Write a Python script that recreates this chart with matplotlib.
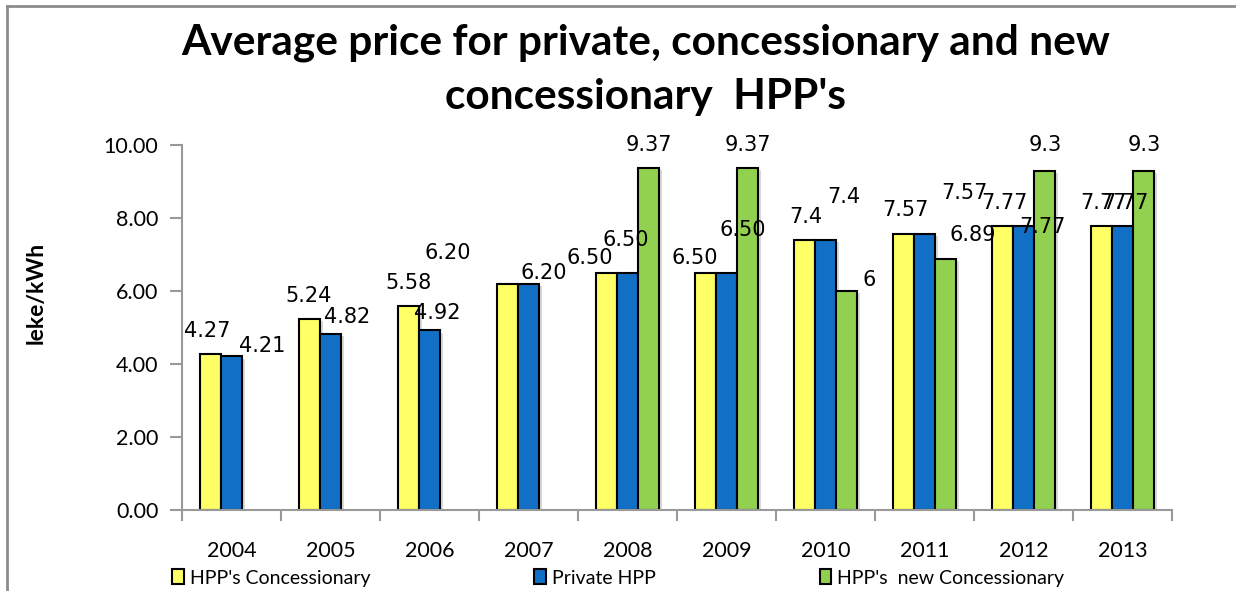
#!/usr/bin/env python3

import numpy as np
import matplotlib
matplotlib.use("Agg")
import matplotlib.pyplot as plt
from matplotlib.lines import Line2D

years = ["2004", "2005", "2006", "2007", "2008", "2009", "2010", "2011", "2012", "2013"]
series_names = ["HPP's Concessionary", "Private HPP", "HPP's  new Concessionary"]
concessionary = [4.27, 5.24, 5.58, 6.20, 6.50, 6.50, 7.40, 7.57, 7.77, 7.77]
private = [4.21, 4.82, 4.92, 6.20, 6.50, 6.50, 7.40, 7.57, 7.77, 7.77]
new_concessionary = [np.nan, np.nan, np.nan, np.nan, 9.37, 9.37, 6.00, 6.89, 9.30, 9.30]
labels_conc = ["4.27", "5.24", "5.58", "6.20", "6.50", "6.50", "7.4", "7.57", "7.77", "7.77"]
labels_priv = ["4.21", "4.82", "4.92", "6.20", "6.50", "6.50", "7.4", "7.57", "7.77", "7.77"]
labels_new = ["", "", "", "", "9.37", "9.37", "6", "6.89", "9.3", "9.3"]

colors = ["#ffff66", "#1170c6", "#92d050"]

# label offsets in pixels from the bar top (Excel had them dragged around)
offs_conc = [(-3, 23), (-1, 23), (0, 23), (-60, 31), (-17, 15), (-11, 15), (1, 23), (2, 24), (2, 23), (2, 23)]
offs_priv = [(31, 10), (17, 17), (8, 17), (15, 11), (-2, 33), (16, 43), (18, 43), (40, 41), (19, -1), (3, 23)]
offs_new = [(0, 0), (0, 0), (0, 0), (0, 0), (0, 23), (0, 23), (23, 11), (27, 24), (1, 26), (1, 26)]

W, H = 1236, 591
fig = plt.figure(figsize=(W / 100, H / 100), dpi=100)
ax = fig.add_axes([182 / W, 81 / H, 990 / W, 365 / H])

x = np.arange(len(years))
bw = 21 / 99
all_vals = [concessionary, private, new_concessionary]
all_labels = [labels_conc, labels_priv, labels_new]
all_offs = [offs_conc, offs_priv, offs_new]

handles = []
for k in range(3):
    xs = x + (k - 1) * bw
    vals = np.array(all_vals[k])
    ok = ~np.isnan(vals)
    # soft shadow
    ax.bar(xs[ok] + 0.03, vals[ok] - 0.06, width=bw, color="#d9d9d9",
           edgecolor="none", zorder=1)
    b = ax.bar(xs[ok], vals[ok], width=bw, color=colors[k], edgecolor="black",
               linewidth=1.5, zorder=2, label=series_names[k])
    handles.append(b)
    for i in np.where(ok)[0]:
        ax.annotate(all_labels[k][i], (xs[i], vals[i]), xytext=all_offs[k][i],
                    textcoords="offset pixels", ha="center", va="center",
                    fontsize=15, family="DejaVu Sans", color="black", zorder=5)

ax.set_xlim(-0.5, len(years) - 0.5)
ax.set_ylim(0, 10)
ax.set_yticks(np.arange(0, 10.01, 2))
ax.set_yticklabels([f"{v:.2f}" for v in np.arange(0, 10.01, 2)], family="Lato", fontsize=15.5)
ax.set_xticks(x)
ax.set_xticklabels(years, family="Lato", fontsize=15.5)
ax.set_xticks(np.arange(-0.5, len(years)), minor=True)
ax.tick_params(axis="x", which="major", length=0, pad=22)
ax.tick_params(axis="x", which="minor", length=8, color="#999999", width=1.5)
ax.tick_params(axis="y", length=9, color="#999999", width=1.5, pad=8)
for s in ["top", "right"]:
    ax.spines[s].set_visible(False)
for s in ["left", "bottom"]:
    ax.spines[s].set_color("#999999")
    ax.spines[s].set_linewidth(1.5)

fig.text(36 / W, 1 - 293 / H, "leke/kWh", rotation=90, ha="center", va="center",
         family="Lato", fontweight="bold", fontsize=16.5)

fig.text(646 / W, 1 - 43 / H, "Average price for private, concessionary and new",
         ha="center", va="center", family="Lato", fontweight="bold", fontsize=30.5)
fig.text(646 / W, 1 - 97 / H, "concessionary  HPP's",
         ha="center", va="center", family="Lato", fontweight="bold", fontsize=30.5)

fig.legend(handles=handles, loc="center", bbox_to_anchor=(172 / W, 1 - 585 / H, 892 / W, 14 / H),
           mode="expand", ncol=3, frameon=False, prop={"family": "Lato", "size": 14},
           handlelength=0.6, handleheight=0.8, handletextpad=0.3, borderaxespad=0, borderpad=0)

# outer chart frame, only the top and left edges show in the picture
fig.add_artist(Line2D([7 / W, 7 / W], [0, 1 - 6 / H], transform=fig.transFigure,
                      color="#8c8c8c", linewidth=2))
fig.add_artist(Line2D([7 / W, 1], [1 - 6 / H, 1 - 6 / H], transform=fig.transFigure,
                      color="#8c8c8c", linewidth=2))

fig.savefig("out.png", dpi=100)
